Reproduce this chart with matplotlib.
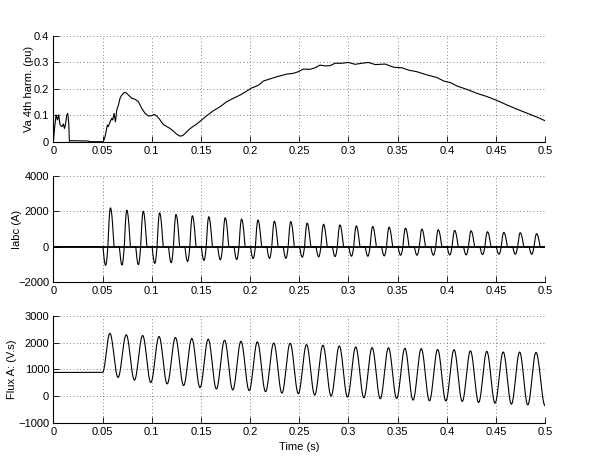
import numpy as np
import matplotlib
matplotlib.use("Agg")
import matplotlib.pyplot as plt

plt.rcParams['font.family'] = ['Liberation Sans', 'DejaVu Sans']
plt.rcParams['font.size'] = 8

# ---------------- data ----------------
# Top: 4th harmonic of Va (pu)
harm_t = [0.0, 0.001, 0.0027, 0.0041, 0.0054, 0.0068, 0.0088, 0.0102, 0.0112, 0.0122,
          0.0136, 0.0146, 0.0156, 0.0163, 0.017, 0.0356, 0.037, 0.0498, 0.0508, 0.0525,
          0.0549, 0.0559, 0.0576, 0.0593, 0.0603, 0.0617, 0.0631, 0.0644, 0.0661, 0.0678,
          0.0695, 0.0719, 0.0739, 0.0763, 0.0797, 0.0831, 0.0864, 0.0898, 0.0932, 0.0966,
          0.1, 0.1024, 0.1051, 0.1085, 0.1119, 0.1153, 0.1186, 0.122, 0.1254, 0.1288,
          0.1315, 0.1339, 0.1373, 0.1407, 0.1458, 0.1508, 0.1559, 0.1627, 0.1695, 0.1763,
          0.1831, 0.1898, 0.1966, 0.2017, 0.2068, 0.2102, 0.2136, 0.2203, 0.2271, 0.2303,
          0.2371, 0.2439, 0.249, 0.2541, 0.2609, 0.266, 0.2711, 0.2762, 0.2813, 0.2864,
          0.2932, 0.3, 0.3068, 0.3136, 0.3204, 0.3272, 0.3323, 0.3374, 0.3459, 0.3544,
          0.3612, 0.3697, 0.3799, 0.3901, 0.3969, 0.4037, 0.4105, 0.4207, 0.431, 0.4412,
          0.4514, 0.4616, 0.4718, 0.482, 0.4922, 0.5]
harm_v = [0.0, 0.044, 0.101, 0.082, 0.101, 0.063, 0.057, 0.067, 0.05, 0.063,
          0.101, 0.107, 0.069, 0.0, 0.004, 0.0025, 0.0, 0.0, 0.0, 0.019,
          0.063, 0.057, 0.075, 0.088, 0.082, 0.107, 0.075, 0.119, 0.138, 0.164,
          0.176, 0.185, 0.185, 0.176, 0.164, 0.16, 0.151, 0.126, 0.107, 0.097,
          0.098, 0.103, 0.097, 0.082, 0.065, 0.057, 0.05, 0.04, 0.028, 0.021,
          0.023, 0.031, 0.044, 0.054, 0.067, 0.082, 0.098, 0.117, 0.132, 0.151,
          0.164, 0.176, 0.191, 0.203, 0.21, 0.218, 0.229, 0.237, 0.245, 0.248,
          0.255, 0.258, 0.264, 0.274, 0.273, 0.279, 0.289, 0.286, 0.287, 0.296,
          0.296, 0.299, 0.292, 0.296, 0.299, 0.291, 0.292, 0.293, 0.281, 0.279,
          0.27, 0.264, 0.252, 0.242, 0.229, 0.223, 0.21, 0.197, 0.182, 0.17,
          0.155, 0.138, 0.122, 0.107, 0.092, 0.079]

# Middle: Iabc (A), per-cycle positive peaks and preceding negative troughs
cur_peaks = [2184, 2055, 2000, 1908, 1817, 1743, 1688, 1633, 1560,
             1505, 1440, 1413, 1330, 1266, 1229, 1174, 1138, 1101,
             1046, 991, 954, 918, 899, 844, 807, 789, 734]
cur_troughs = [-1046, -1028, -1009, -936, -899, -826, -770, -734, -716,
               -660, -650, -650, -587, -569, -550, -532, -532, -514,
               -477, -477, -477, -459, -459, -440, -422, -422, -422]
cur_first_peak = 0.058

# Bottom: Flux A (V.s)
flux_initial = 890
flux_peaks = [2340, 2290, 2264, 2227, 2189, 2151, 2126, 2088,
              2050, 2025, 1985, 1975, 1925, 1900, 1874, 1837, 1811, 1805,
              1786, 1774, 1745, 1736, 1690, 1673, 1650, 1648, 1636]
flux_troughs = [704, 604, 516, 465, 403, 327, 277, 239,
                214, 176, 120, 105, 50, 13, -25, -50, -88, -75,
                -138, -164, -170, -189, -226, -252, -289, -315, -350]
flux_first_peak = 0.0574
fault_time = 0.05
freq = 60.0

x_ticks = [0, 0.05, 0.1, 0.15, 0.2, 0.25, 0.3, 0.35, 0.4, 0.45, 0.5]
x_ticklabels = ['0', '0.05', '0.1', '0.15', '0.2', '0.25', '0.3', '0.35', '0.4', '0.45', '0.5']
harm_yticks = [0, 0.1, 0.2, 0.3, 0.4]
cur_yticks = [-2000, 0, 2000, 4000]
flux_yticks = [-1000, 0, 1000, 2000, 3000]

# ---------------- waveform construction ----------------
period = 1.0 / freq
t = np.linspace(0, 0.5, 10001)


def lobe(tt, s, p, e, amp):
    out = np.zeros_like(tt)
    m1 = (tt >= s) & (tt <= p)
    out[m1] = amp * np.sin(0.5 * np.pi * (tt[m1] - s) / (p - s))
    m2 = (tt > p) & (tt <= e)
    out[m2] = amp * np.cos(0.5 * np.pi * (tt[m2] - p) / (e - p))
    return out


cur = np.zeros_like(t)
for k, (pk, tr) in enumerate(zip(cur_peaks, cur_troughs)):
    tp = cur_first_peak + k * period
    cur += lobe(t, tp - 0.0076, tp - 0.0049, tp - 0.0026, tr)
    cur += lobe(t, tp - 0.0026, tp, tp + 0.0036, pk)

# flux: extrema sequence joined with half-cosine segments
ext_t = [fault_time]
ext_v = [flux_initial]
for k, (pk, tr) in enumerate(zip(flux_peaks, flux_troughs)):
    tp = flux_first_peak + k * period
    ext_t += [tp, min(tp + period / 2, 0.5)]
    ext_v += [pk, tr]
ext_t[-1] = 0.5
flux = np.full_like(t, float(flux_initial))
for i in range(len(ext_t) - 1):
    a, b = ext_t[i], ext_t[i + 1]
    m = (t >= a) & (t <= b)
    s = (t[m] - a) / (b - a)
    flux[m] = ext_v[i] + (ext_v[i + 1] - ext_v[i]) * (1 - np.cos(np.pi * s)) / 2

# ---------------- figure ----------------
fig = plt.figure(figsize=(6.0, 4.65), dpi=100)
left, width = 0.089, 0.8195
ax1 = fig.add_axes([left, 0.6953, width, 0.2279])
ax2 = fig.add_axes([left, 0.3929, width, 0.2293])
ax3 = fig.add_axes([left, 0.0897, width, 0.2314])

line_kw = dict(color='black', linewidth=0.8)
ax1.plot(harm_t, harm_v, **line_kw)
ax2.plot([0, 0.5], [0, 0], color='black', linewidth=1.3)
ax2.plot(t, cur, **line_kw)
ax3.plot(t, flux, **line_kw)

ax1.set_ylim(0, 0.4)
ax1.set_yticks(harm_yticks)
ax1.set_yticklabels(['0', '0.1', '0.2', '0.3', '0.4'])
ax1.set_ylabel('Va 4th harm. (pu)')

ax2.set_ylim(-2000, 4000)
ax2.set_yticks(cur_yticks)
ax2.set_ylabel('Iabc (A)')

ax3.set_ylim(-1000, 3000)
ax3.set_yticks(flux_yticks)
ax3.set_ylabel('Flux A: (V.s)')
ax3.set_xlabel('Time (s)', labelpad=3)

for ax in (ax1, ax2, ax3):
    ax.set_xlim(0, 0.5)
    ax.set_xticks(x_ticks)
    ax.set_xticklabels(x_ticklabels)
    ax.spines['top'].set_visible(False)
    ax.spines['right'].set_visible(False)
    for sp in ('left', 'bottom'):
        ax.spines[sp].set_linewidth(0.8)
    ax.tick_params(direction='in', length=4, width=0.6, labelsize=8, pad=3)
    ax.grid(True, linestyle=(0, (1, 3)), color='#555555', linewidth=0.6)
    ax.set_axisbelow(True)

ax1.yaxis.set_label_coords(-0.040, 0.5)
ax2.yaxis.set_label_coords(-0.063, 0.5)
ax3.yaxis.set_label_coords(-0.074, 0.5)

fig.savefig('out.png', dpi=100)
